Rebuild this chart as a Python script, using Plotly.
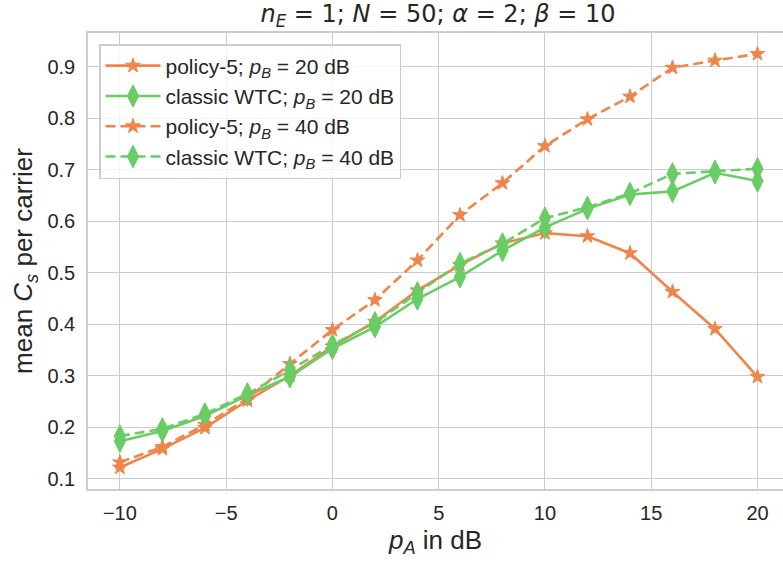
import plotly.graph_objects as go

# Transmit power of Alice (dB)
p_a_db = [-10, -8, -6, -4, -2, 0, 2, 4, 6, 8, 10, 12, 14, 16, 18, 20]

# Mean secrecy capacity per carrier
policy5_pb20 = [0.122, 0.158, 0.199, 0.252, 0.300, 0.357, 0.405, 0.466,
                0.515, 0.557, 0.577, 0.571, 0.538, 0.463, 0.391, 0.298]
wtc_pb20 = [0.173, 0.193, 0.222, 0.262, 0.298, 0.353, 0.395, 0.449,
            0.492, 0.543, 0.588, 0.624, 0.652, 0.658, 0.694, 0.678]
policy5_pb40 = [0.132, 0.162, 0.205, 0.256, 0.323, 0.389, 0.447, 0.524,
                0.612, 0.674, 0.746, 0.798, 0.842, 0.898, 0.912, 0.925]
wtc_pb40 = [0.183, 0.197, 0.226, 0.265, 0.311, 0.360, 0.403, 0.461,
            0.518, 0.556, 0.606, 0.627, 0.654, 0.692, 0.697, 0.702]

x_ticks = [-10, -5, 0, 5, 10, 15, 20]
y_ticks = [0.1, 0.2, 0.3, 0.4, 0.5, 0.6, 0.7, 0.8, 0.9]

ORANGE = "#ee854a"
GREEN = "#6acc64"
TEXT = "#262626"
GRID = "#cccccc"
FONT = "Liberation Sans, Arial, sans-serif"

series = [
    ("policy-5; <i>p</i><sub><i>B</i></sub> = 20 dB", policy5_pb20, ORANGE, "solid", "star", 11),
    ("classic WTC; <i>p</i><sub><i>B</i></sub> = 20 dB", wtc_pb20, GREEN, "solid", "diamond-tall", 16),
    ("policy-5; <i>p</i><sub><i>B</i></sub> = 40 dB", policy5_pb40, ORANGE, "10px,5px", "star", 11),
    ("classic WTC; <i>p</i><sub><i>B</i></sub> = 40 dB", wtc_pb40, GREEN, "10px,5px", "diamond-tall", 16),
]

fig = go.Figure()
for name, ys, color, dash, symbol, msize in series:
    fig.add_trace(go.Scatter(
        x=p_a_db, y=ys, name=name, mode="lines+markers",
        line=dict(color=color, width=2.6, dash=dash),
        marker=dict(symbol=symbol, size=msize, color=color,
                    line=dict(color=color, width=1)),
    ))

fig.update_layout(
    width=783, height=563,
    margin=dict(l=88, r=0, t=33, b=74),
    paper_bgcolor="white", plot_bgcolor="white",
    font=dict(family=FONT, size=20, color=TEXT),
    title=dict(
        text="<i>n</i><sub><i>E</i></sub> = 1; <i>N</i> = 50; <i>α</i> = 2; <i>β</i> = 10",
        font=dict(family="DejaVu Sans", size=24, color=TEXT),
        x=438 / 783, xref="container", xanchor="center",
        y=1 - 14 / 563, yref="container", yanchor="middle",
    ),
    showlegend=True,
    legend=dict(
        x=(99 - 88) / 695, y=(489 - 44) / 456, xanchor="left", yanchor="top",
        bgcolor="rgba(255,255,255,0.8)", bordercolor=GRID, borderwidth=1.5,
        font=dict(family=FONT, size=21, color=TEXT),
        itemwidth=55, tracegroupgap=0,
    ),
)

fig.update_xaxes(
    range=[-11.5, 21.2], tickvals=x_ticks,
    ticktext=[("\u2212" + str(-v)) if v < 0 else str(v) for v in x_ticks],
    showgrid=True, gridcolor=GRID, gridwidth=1.3,
    showline=True, linecolor=GRID, linewidth=1.5, mirror=True,
    zeroline=False, ticks="", tickfont=dict(size=20), ticklabelstandoff=5,
    title=dict(text="<i>p</i><sub><i>A</i></sub> in dB", font=dict(size=26), standoff=8),
)
fig.update_yaxes(
    range=[0.0802, 0.9654], tickvals=y_ticks,
    ticktext=[f"{v:.1f}" for v in y_ticks],
    showgrid=True, gridcolor=GRID, gridwidth=1.3,
    showline=True, linecolor=GRID, linewidth=1.5,
    zeroline=False, ticks="", tickfont=dict(size=20), ticklabelstandoff=7,
    title=dict(text="mean <i>C</i><sub><i>s</i></sub> per carrier", font=dict(size=26), standoff=7),
)

fig.write_html("out.html")
